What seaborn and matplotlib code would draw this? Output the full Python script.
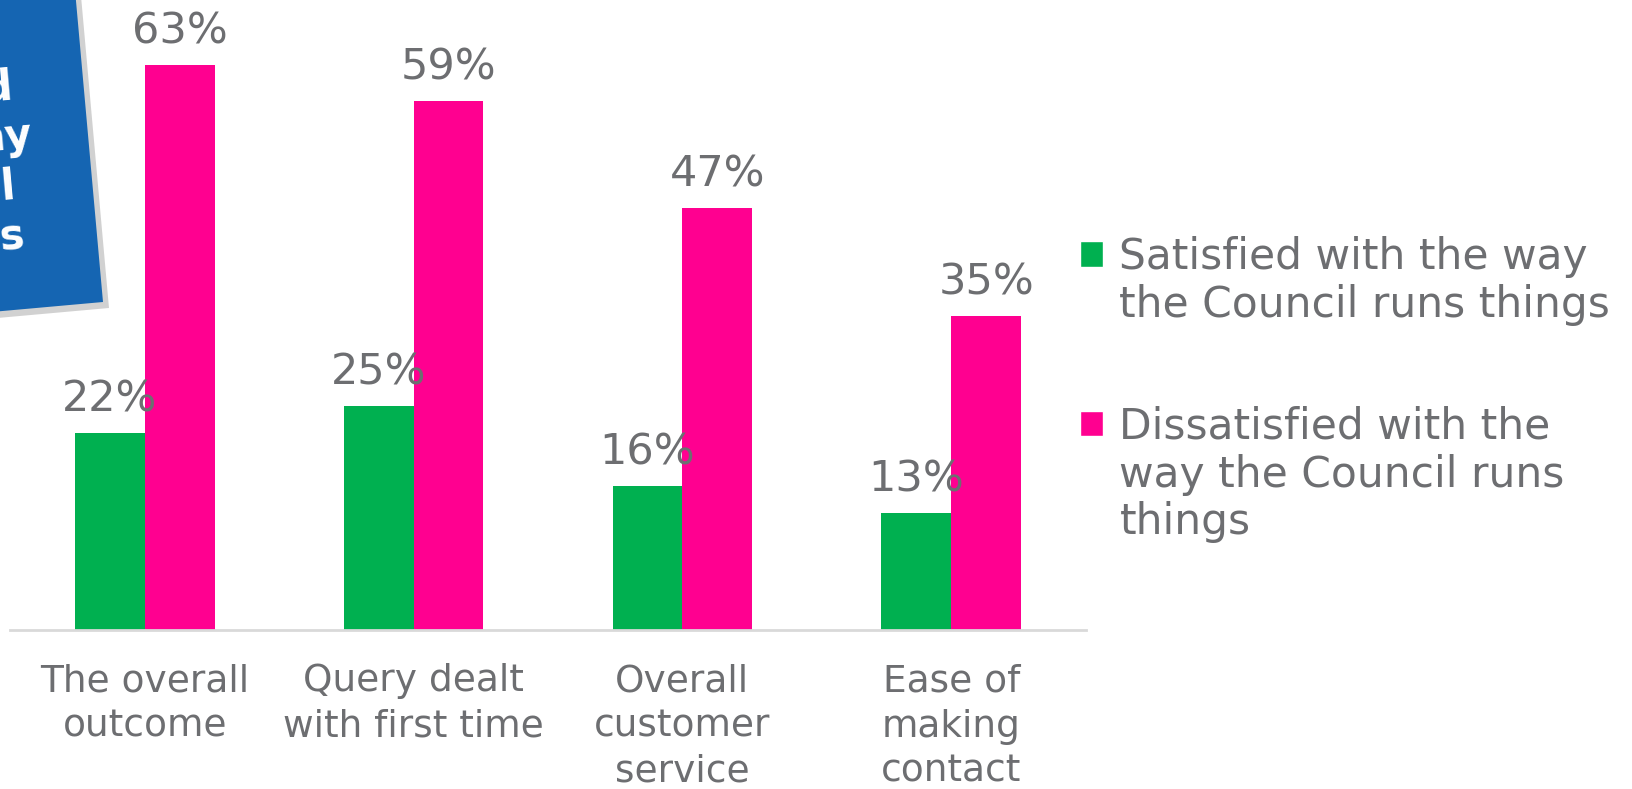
import matplotlib
matplotlib.use("Agg")
import matplotlib.pyplot as plt
import seaborn as sns
import pandas as pd
import numpy as np
from matplotlib.patches import Polygon, Rectangle
from matplotlib.legend_handler import HandlerPatch

categories = ["The overall\noutcome", "Query dealt\nwith first time",
              "Overall\ncustomer\nservice", "Ease of\nmaking\ncontact"]
series_names = ["Satisfied with the way\nthe Council runs things",
                "Dissatisfied with the\nway the Council runs\nthings"]
satisfied = [22, 25, 16, 13]
dissatisfied = [63, 59, 47, 35]
box_lines = ["d", "ny", "ll", "s"]

colors = ["#00B050", "#FF0090"]
gray = "#6D6E71"

df = pd.DataFrame({
    "category": categories * 2,
    "series": [series_names[0]] * 4 + [series_names[1]] * 4,
    "value": satisfied + dissatisfied,
})

sns.set_theme(style="white")
plt.rcParams['font.family'] = ['DejaVu Sans']

W, H = 1632, 789
fig = plt.figure(figsize=(W / 100, H / 100), dpi=100)
ax = fig.add_axes([10.4 / W, 1 - 630 / H, (1085.6 - 10.4) / W, 630 / H])

sns.barplot(data=df, x="category", y="value", hue="series", palette=colors,
            width=0.52, saturation=1, ax=ax, legend=True)

ax.set_xlim(-0.5, 3.5)
ax.set_ylim(0, 70.2)
ax.set_xlabel("")
ax.set_ylabel("")
ax.set_yticks([])
for s in ["top", "right", "left"]:
    ax.spines[s].set_visible(False)
ax.spines["bottom"].set_color("#D9D9D9")
ax.spines["bottom"].set_linewidth(2)
ax.tick_params(axis="x", length=0, pad=24, labelsize=27, labelcolor=gray)
for lab in ax.get_xticklabels():
    lab.set_linespacing(1.33)

vals = [satisfied, dissatisfied]
for cont, v in zip(ax.containers, vals):
    for p in cont:
        p.set_edgecolor("none")
    ax.bar_label(cont, labels=[f"{x}%" for x in v], padding=9,
                 fontsize=31, color=gray)


def shifted_rect(legend, orig_handle, xdescent, ydescent, width, height, fontsize):
    return Rectangle((-xdescent, -ydescent - 3.6), width, height)


handles, labels = ax.get_legend_handles_labels()
ax.get_legend().remove()
leg = fig.legend(handles, labels, loc="upper left",
                 bbox_to_anchor=(1080 / W, 1 - 236 / H),
                 frameon=False, fontsize=30.5, labelcolor=gray,
                 handlelength=0.55, handleheight=0.55, handletextpad=0.38,
                 labelspacing=1.88, borderaxespad=0, borderpad=0,
                 handler_map={Rectangle: HandlerPatch(patch_func=shifted_rect)})
for col in leg._legend_handle_box.get_children():
    for entry in col.get_children():
        entry.align = "top"
for t in leg.get_texts():
    t.set_linespacing(1.18)

# Tilted blue callout box (partially off-canvas at left)
def px(x, y):
    return (x / W, 1 - y / H)

rb = np.array([103.0, 302.0])
rt = np.array([76.0, 1.0])
up = (rt - rb) / np.linalg.norm(rt - rb)
left = np.array([up[1], -up[0]])
if left[0] > 0:
    left = -left
lb = rb + 400 * left
rt2 = rt + up * 60
lt = rt2 + 400 * left
pts = [rb, rt2, lt, lb]
shadow = [p + np.array([6, 6]) for p in pts]
fig.patches.append(Polygon([px(*p) for p in shadow], closed=True,
                           transform=fig.transFigure, facecolor="#9a9a9a",
                           alpha=0.45, edgecolor="none", zorder=5))
fig.patches.append(Polygon([px(*p) for p in pts], closed=True,
                           transform=fig.transFigure, facecolor="#1565B2",
                           edgecolor="none", zorder=6))

box_pos = [(13, 99), (33, 147), (17, 199), (25, 248)]
for t, (x, y) in zip(box_lines, box_pos):
    fig.text(*px(x, y), t, color="white", fontsize=30, fontweight="bold",
             ha="right", va="baseline", rotation=5, rotation_mode="anchor",
             zorder=7)

fig.savefig("out.png", dpi=100)
